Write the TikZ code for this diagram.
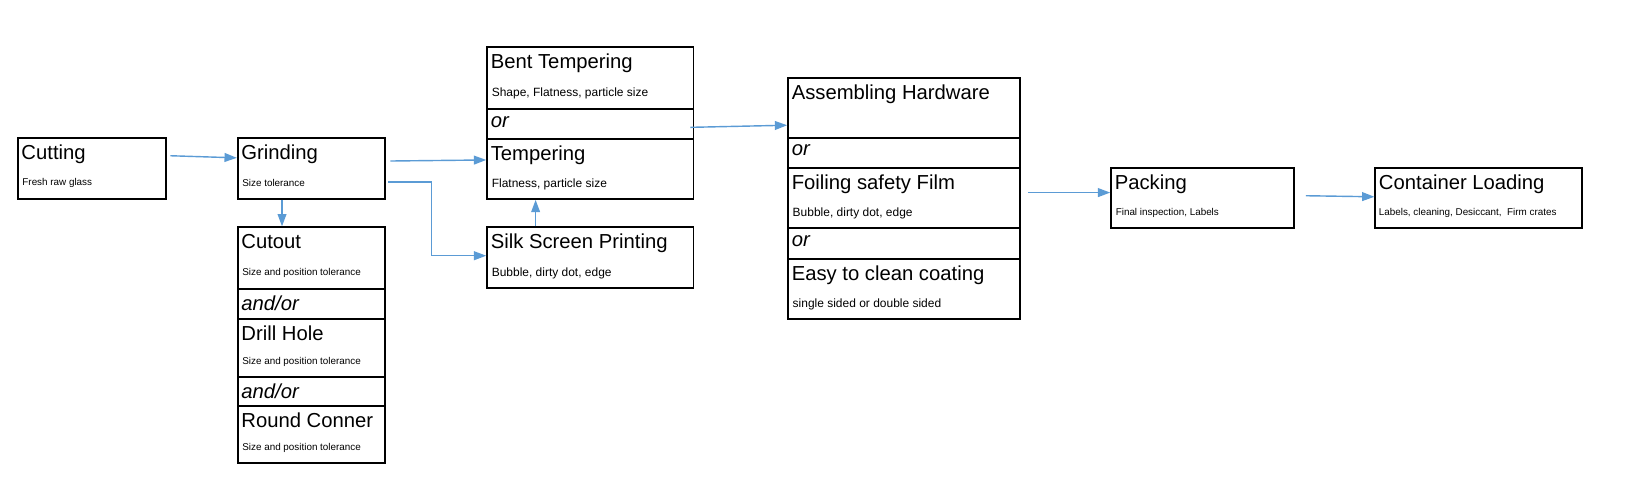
\documentclass[tikz,border=0pt]{standalone}
\usepackage{fontspec}
\setmainfont{Liberation Sans}
\usetikzlibrary{arrows.meta,fit,calc}
\definecolor{flowblue}{RGB}{91,155,213}
\tikzset{
  box/.style={draw=black, line width=1.1pt, inner sep=0pt},
  title/.style={anchor=north west, inner sep=0pt, font=\fontsize{11.5}{12}\selectfont},
  note/.style={anchor=west, inner sep=0pt, font=\fontsize{6.8}{7}\selectfont},
  tiny note/.style={anchor=west, inner sep=0pt, font=\fontsize{5.6}{6}\selectfont},
  flow/.style={draw=flowblue, line width=0.8pt, -{Triangle[length=7pt,width=5pt]}}
}
% a stage box with its title
\newcommand{\stagebox}[6]{%
  \node[box, fit={(#2,#3) (#4,#5)}] (#1) {};
  \node[title] (#1-t) at ($(#1.north west)+(4,7)$) {#6};
}
\begin{document}
\begin{tikzpicture}[x=0.021cm, y=-0.021cm]
  \useasboundingbox (0,0) rectangle (1568,473);

  % cutting and grinding
  \stagebox{cut}{17}{131}{158}{189}{Cutting}
  \node[tiny note] at (21,174) {Fresh raw glass};
  \stagebox{grind}{226}{131}{366}{189}{Grinding}
  \node[tiny note] at (230,174) {Size tolerance};

  % cutout / drill / round
  \stagebox{cutout}{226}{216}{366}{275}{Cutout}
  \node[tiny note] at (230,259) {Size and position tolerance};
  \stagebox{or1}{226}{275}{366}{303}{\textit{and/or}}
  \stagebox{drill}{226}{303}{366}{358}{Drill Hole}
  \node[tiny note] at (230,344) {Size and position tolerance};
  \stagebox{or2}{226}{358}{366}{386}{\textit{and/or}}
  \stagebox{round}{226}{386}{366}{440}{Round Conner}
  \node[tiny note] at (230,426) {Size and position tolerance};

  % tempering
  \stagebox{bent}{463}{45}{659}{104}{Bent Tempering}
  \node[note] at (467,89) {Shape, Flatness, particle size};
  \stagebox{or3}{463}{104}{659}{132}{\textit{or}}
  \stagebox{temper}{463}{132}{659}{189}{Tempering}
  \node[note] at (467,175) {Flatness, particle size};
  \stagebox{silk}{463}{216}{659}{274}{Silk Screen Printing}
  \node[note] at (467,260) {Bubble, dirty dot, edge};

  % hardware / film / coating
  \stagebox{hard}{749}{74}{969}{131}{Assembling Hardware}
  \stagebox{or4}{749}{131}{969}{160}{\textit{or}}
  \stagebox{foil}{749}{160}{969}{217}{Foiling safety Film}
  \node[note] at (753,203) {Bubble, dirty dot, edge};
  \stagebox{or5}{749}{217}{969}{246}{\textit{or}}
  \stagebox{coat}{749}{246}{969}{303}{Easy to clean coating}
  \node[note] at (753,289) {single sided or double sided};

  % packing and loading
  \stagebox{pack}{1056}{160}{1230}{217}{Packing}
  \node[tiny note] at (1060,202) {Final inspection, Labels};
  \stagebox{load}{1307}{160}{1503}{217}{Container Loading}
  \node[tiny note] at (1310,202) {Labels, cleaning, Desiccant,\ \ Firm crates};

  % connectors
  \coordinate (c1) at (162,148);
  \coordinate (c2) at (371,153);
  \coordinate (c3) at (369,173);
  \coordinate (c4) at (656,121);
  \coordinate (c5) at (977,183);
  \coordinate (c6) at (1241,186);
  \draw[flow] (c1) -- (grind.west |- 0,150);
  \draw[flow] (c2) -- (temper.west |- 0,152);
  \draw[flow] (c3) -| (410,243) -- (silk.west |- 0,243);
  \draw[flow] (grind.south -| 268,0) -- (cutout.north -| 268,0);
  \draw[flow] (silk.north -| 509,0) -- (temper.south -| 509,0);
  \draw[flow] (c4) -- (hard.west |- 0,119);
  \draw[flow] (c5) -- (pack.west |- 0,183);
  \draw[flow] (c6) -- (load.west |- 0,187);
\end{tikzpicture}
\end{document}
